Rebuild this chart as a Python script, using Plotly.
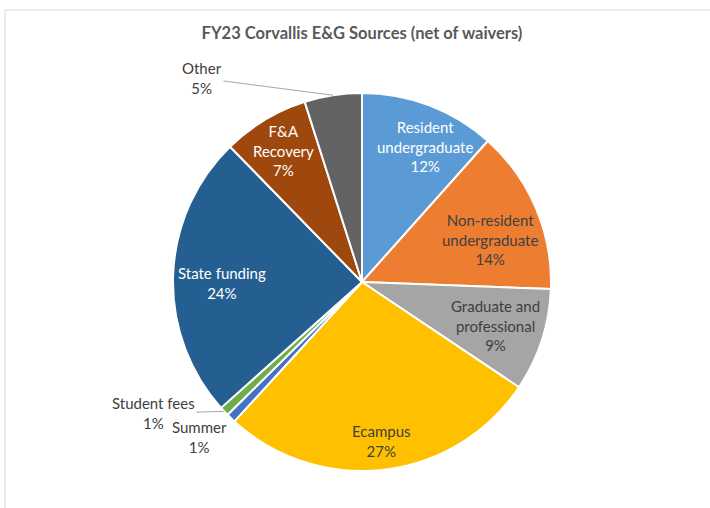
import math
import plotly.graph_objects as go

categories = ["Resident undergraduate", "Non-resident undergraduate", "Graduate and professional",
              "Ecampus", "Summer", "Student fees", "State funding", "F&A Recovery", "Other"]
values = [11.6, 14.0, 8.8, 27.4, 0.8, 0.8, 24.3, 7.4, 4.9]
label_text = ["Resident<br>undergraduate<br>12%", "Non-resident<br>undergraduate<br>14%",
              "Graduate and<br>professional<br>9%", "Ecampus<br>27%", "Summer<br>1%",
              "Student fees<br>1%", "State funding<br>24%", "F&A<br>Recovery<br>7%", "Other<br>5%"]
colors = ["#5B9BD5", "#ED7D31", "#A5A5A5", "#FFC000", "#4472C4", "#70AD47", "#255E91", "#9E480E", "#636363"]

W, H = 710, 508
CX, CY, R = 362, 282, 189  # pie centre/radius in pixels

# label placement style: (mode, radial factor / pixel offset, pixel nudge, font colour, leader line?)
label_style = [
    ("in", 0.79, (10, 4), "white", None),
    ("in", 0.71, (5, 10), "#404040", None),
    ("in", 0.74, (0, 0), "#404040", None),
    ("in", 0.85, (0, -1), "#404040", None),
    ("out", (-31, 19), (0, 0), "#404040", False),
    ("out", (-71, 2), (0, 0), "#404040", True),
    ("in", 0.74, (0, 6), "white", None),
    ("in", 0.81, (0, 0), "white", None),
    ("out", (-131, -17), (0, 0), "#404040", True),
]

fig = go.Figure(go.Pie(
    labels=categories, values=values, sort=False, direction="clockwise", rotation=0,
    marker=dict(colors=colors, line=dict(color="white", width=2)),
    textinfo="none", showlegend=False,
    domain=dict(x=[(CX - R) / W, (CX + R) / W], y=[(H - CY - R) / H, (H - CY + R) / H]),
))

total = sum(values)
cum = 0
annotations = []
for v, txt, (mode, p, nudge, col, leader) in zip(values, label_text, label_style):
    mid = (cum + v / 2) / total * 2 * math.pi
    cum += v
    if mode == "in":
        px = CX + p * R * math.sin(mid) + nudge[0]
        py = CY - p * R * math.cos(mid) + nudge[1]
        annotations.append(dict(x=px / W, y=1 - py / H, xref="paper", yref="paper", text=txt,
                                xanchor="center", yanchor="middle",
                                showarrow=False, font=dict(color=col, size=15, family="Lato"),
                                align="center"))
    else:
        ex = CX + R * math.sin(mid)
        ey = CY - R * math.cos(mid)
        annotations.append(dict(x=ex / W, y=1 - ey / H, xref="paper", yref="paper", text=txt,
                                showarrow=True, arrowhead=0, arrowwidth=1,
                                arrowcolor="#A6A6A6" if leader else "rgba(0,0,0,0)",
                                ax=p[0], ay=p[1], standoff=0, startstandoff=0,
                                font=dict(color=col, size=15, family="Lato"), align="center"))

fig.update_layout(
    width=W, height=H, margin=dict(l=0, r=0, t=0, b=0),
    paper_bgcolor="white", plot_bgcolor="white",
    title=dict(text="<b>FY23 Corvallis E&G Sources (net of waivers)</b>", x=CX / W, xanchor="center",
               y=1 - 33 / H, yanchor="middle", yref="container",
               font=dict(size=16.5, color="#595959", family="Lato")),
    annotations=annotations,
    shapes=[
        dict(type="line", xref="paper", yref="paper", x0=5 / W, x1=1, y0=1 - 10 / H, y1=1 - 10 / H,
             line=dict(color="#D9D9D9", width=1)),
        dict(type="line", xref="paper", yref="paper", x0=5 / W, x1=5 / W, y0=0, y1=1 - 10 / H,
             line=dict(color="#D9D9D9", width=1)),
    ],
)

fig.write_html("out.html")
